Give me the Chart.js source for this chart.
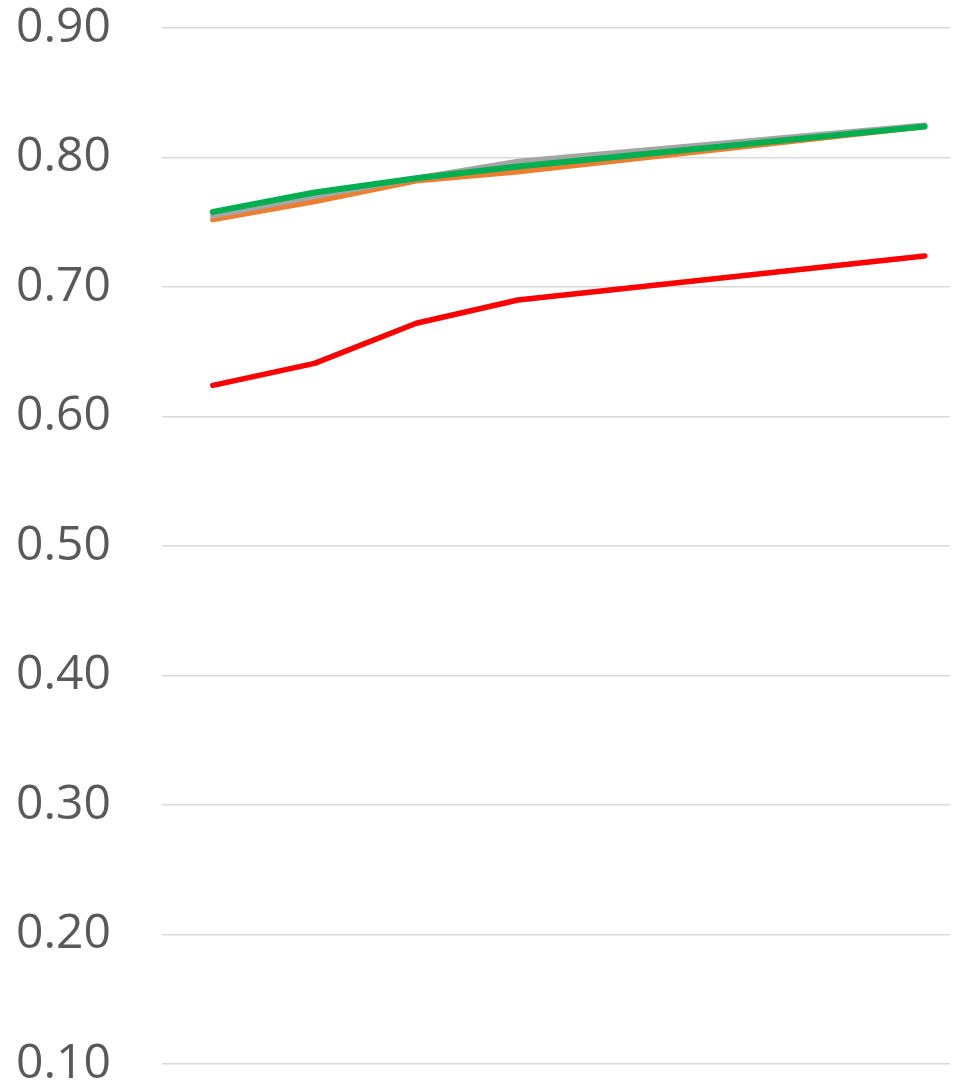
<!DOCTYPE html>
<html lang="en">
<head>
    <meta charset="UTF-8">
    <title>Line chart</title>
    <script src="https://cdn.jsdelivr.net/npm/chart.js"></script>
    <style>
        html, body { margin: 0; padding: 0; background: #fff; }
        .wrap { width: 966px; height: 1087px; }
    </style>
</head>
<body>
    <div class="wrap"><canvas id="chart"></canvas></div>
    <script>
        // x positions of the points (unlabelled axis)
        const xValues = [1, 2, 3, 4, 8];
        const orangeValues = [0.752, 0.766, 0.782, 0.789, 0.824];
        const grayValues = [0.755, 0.770, 0.784, 0.797, 0.825];
        const redValues = [0.624, 0.641, 0.672, 0.690, 0.724];
        const greenValues = [0.758, 0.773, 0.784, 0.793, 0.824];
        const yTicks = [0.1, 0.2, 0.3, 0.4, 0.5, 0.6, 0.7, 0.8, 0.9];

        const toPoints = vals => vals.map((v, i) => ({ x: xValues[i], y: v }));

        // Chart.js paints dataset 0 last, so the green line goes first to sit on top
        const series = [
            { label: 'Green', data: greenValues, color: '#00B050', width: 6 },
            { label: 'Red', data: redValues, color: '#FF0000', width: 5.5 },
            { label: 'Gray', data: grayValues, color: '#A5A5A5', width: 5.5 },
            { label: 'Orange', data: orangeValues, color: '#ED7D31', width: 5.5 }
        ];

        new Chart(document.getElementById('chart'), {
            type: 'line',
            data: {
                datasets: series.map(s => ({
                    label: s.label,
                    data: toPoints(s.data),
                    borderColor: s.color,
                    backgroundColor: s.color,
                    borderWidth: s.width,
                    borderCapStyle: 'round',
                    borderJoinStyle: 'round',
                    pointRadius: 0,
                    tension: 0,
                    fill: false
                }))
            },
            options: {
                responsive: true,
                maintainAspectRatio: false,
                animation: false,
                layout: { padding: { top: 28, bottom: 23, left: 0, right: 16 } },
                plugins: {
                    legend: { display: false },
                    tooltip: { enabled: false }
                },
                scales: {
                    x: {
                        type: 'linear',
                        min: 0.5,
                        max: 8.25,
                        display: false
                    },
                    y: {
                        min: 0.1,
                        max: 0.9,
                        afterBuildTicks: axis => {
                            axis.ticks = yTicks.map(v => ({ value: v }));
                        },
                        afterFit: axis => {
                            axis.width = 162;
                            axis.paddingTop = 0;
                            axis.paddingBottom = 0;
                        },
                        border: { display: false },
                        grid: {
                            color: '#D9D9D9',
                            lineWidth: 1.5,
                            drawTicks: false
                        },
                        ticks: {
                            padding: 51,
                            color: '#595959',
                            font: { family: '"Open Sans", sans-serif', size: 48, lineHeight: 1 },
                            callback: v => v.toFixed(2)
                        }
                    }
                }
            }
        });
    </script>
</body>
</html>
